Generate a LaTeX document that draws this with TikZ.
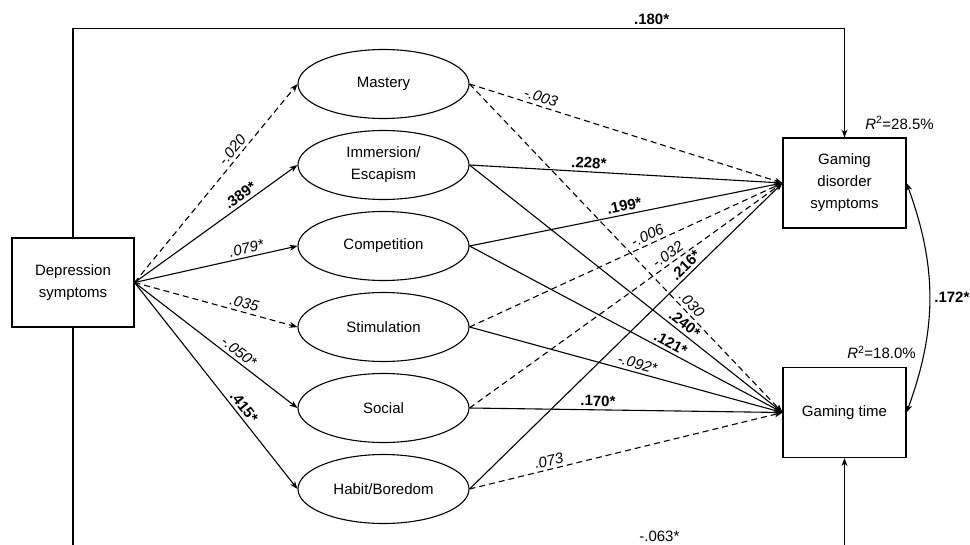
\documentclass[tikz,border=0pt]{standalone}
\usepackage{fontspec}
\setmainfont{Liberation Sans}
\usetikzlibrary{arrows.meta,shapes.geometric,positioning}

\begin{document}
\begin{tikzpicture}[x=1pt, y=1pt,
  obs/.style={draw, line width=1.1pt, align=center, minimum width=123pt, minimum height=90pt, inner sep=2pt},
  lat/.style={draw, ellipse, line width=1.1pt, align=center, minimum width=171pt, minimum height=69pt, inner sep=1pt},
  sig/.style={->, line width=1.1pt},
  nsig/.style={->, line width=1.1pt, dash pattern=on 6pt off 4pt},
  coef/.style={font=\fontsize{15}{17}\selectfont, sloped, above, inner sep=3pt},
  >={Stealth[length=8pt,width=6pt]},
  font=\fontsize{15}{22}\selectfont]
  \useasboundingbox (0,0) rectangle (970,-544);
  \clip (0,0) rectangle (970,-544);
  \node[obs, minimum width=122pt, minimum height=89pt] (dep) at (73,-282.5) {Depression\\symptoms};
  \node[lat] (mas) at (383.5,-84) {Mastery};
  \node[lat] (imm) at (383.5,-165) {Immersion/\\Escapism};
  \node[lat] (com) at (383.5,-246) {Competition};
  \node[lat] (sti) at (383.5,-327) {Stimulation};
  \node[lat] (soc) at (383.5,-408) {Social};
  \node[lat] (hab) at (383.5,-489) {Habit/Boredom};
  \node[obs] (gd) at (844.5,-183) {Gaming\\disorder\\symptoms};
  \node[obs] (gt) at (844.5,-412.5) {Gaming time};
  \node[above=6pt of gd.north, xshift=55pt, inner sep=2pt] (rgd) {\textit{R}\textsuperscript{2}=28.5\%};
  \node[above=6pt of gt.north, xshift=37pt, inner sep=2pt] (rgt) {\textit{R}\textsuperscript{2}=18.0\%};
  \draw[nsig] (dep.east) -- (mas.west) node[coef,pos=.64] {\textit{-.020}};
  \draw[sig] (dep.east) -- (imm.west) node[coef,pos=.68] {\textbf{.389*}};
  \draw[sig] (dep.east) -- (com.west) node[coef,pos=.70] {\textit{.079*}};
  \draw[nsig] (dep.east) -- (sti.west) node[coef,pos=.66] {\textit{.035}};
  \draw[sig] (dep.east) -- (soc.west) node[coef,pos=.61] {\textit{-.050*}};
  \draw[sig] (dep.east) -- (hab.west) node[coef,pos=.63] {\textbf{.415*}};
  \draw[nsig] (mas.east) -- (gd.west) node[coef,pos=.22] {\textit{-.003}};
  \draw[sig] (imm.east) -- (gd.west) node[coef,pos=.38] {\textbf{.228*}};
  \draw[sig] (com.east) -- (gd.west) node[coef,pos=.50] {\textbf{.199*}};
  \draw[nsig] (sti.east) -- (gd.west) node[coef,pos=.58] {\textit{-.006}};
  \draw[nsig] (soc.east) -- (gd.west) node[coef,pos=.65] {\textit{-.032}};
  \draw[sig] (hab.east) -- (gd.west) node[coef,pos=.71] {\textbf{.216*}};
  \draw[nsig] (mas.east) -- (gt.west) node[coef,pos=.69] {\textit{.030}};
  \draw[sig] (imm.east) -- (gt.west) node[coef,pos=.67] {\textbf{.240*}};
  \draw[sig] (com.east) -- (gt.west) node[coef,pos=.63] {\textbf{.121*}};
  \draw[sig] (sti.east) -- (gt.west) node[coef,pos=.53] {\textit{-.092*}};
  \draw[sig] (soc.east) -- (gt.west) node[coef,pos=.41] {\textbf{.170*}};
  \draw[nsig] (hab.east) -- (gt.west) node[coef,pos=.26] {\textit{.073}};
  \draw[sig] (dep.north) -- ++(0,209) -| node[coef,pos=.375] {\textbf{.180*}} (gd.north);
  \draw[sig] (dep.south) -- ++(0,-221) -| node[coef,pos=.38,yshift=3pt] {-.063*} (gt.south);
  \draw[<->, line width=1.1pt] (gd.east) to[bend left=20] node[midway,right=1pt] {\textbf{.172*}} (gt.east);
\end{tikzpicture}
\end{document}
